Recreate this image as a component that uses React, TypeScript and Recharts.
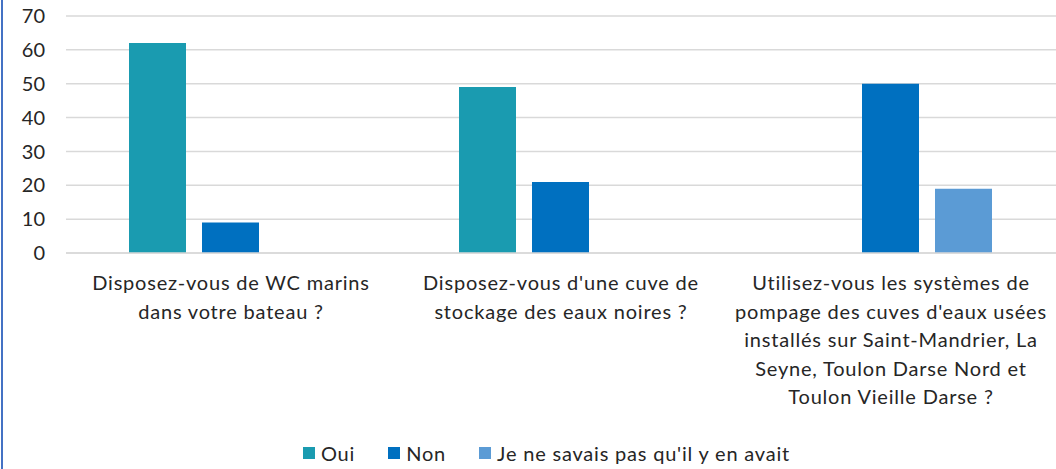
import React from "react";
import { BarChart, Bar, XAxis, YAxis, CartesianGrid, Legend } from "recharts";

const categories = [
  "Disposez-vous de WC marins\ndans votre bateau ?",
  "Disposez-vous d'une cuve de\nstockage des eaux noires ?",
  "Utilisez-vous les systèmes de\npompage des cuves d'eaux usées\ninstallés sur Saint-Mandrier, La\nSeyne, Toulon Darse Nord et\nToulon Vieille Darse ?",
];
const oui = [62, 49, null];
const non = [9, 21, 50];
const jeNeSavais = [null, null, 19];
const yTicks = [0, 10, 20, 30, 40, 50, 60, 70];

const seriesNames = ["Oui", "Non", "Je ne savais pas qu'il y en avait"];
const seriesColors = ["#1a9bb0", "#0070c0", "#5b9bd5"];

const data = categories.map((name, i) => ({
  name,
  oui: oui[i],
  non: non[i],
  je: jeNeSavais[i],
}));

const FONT = "Lato, 'Open Sans', sans-serif";

function CategoryTick(props: any) {
  const { x, y, payload } = props;
  const lines = String(payload.value).split("\n");
  return (
    <text x={x} y={y + 29} textAnchor="middle" fontFamily={FONT} fontSize={20} letterSpacing={0.8} fill="#262626">
      {lines.map((l, i) => (
        <tspan key={i} x={x} dy={i === 0 ? 0 : 28.5}>
          {l}
        </tspan>
      ))}
    </text>
  );
}

function LegendContent() {
  return (
    <div style={{ display: "flex", justifyContent: "center", fontFamily: FONT, fontSize: 20, letterSpacing: 0.8, color: "#262626", paddingTop: 2, paddingLeft: 34 }}>
      {seriesNames.map((n, i) => (
        <div key={n} style={{ display: "flex", alignItems: "center", marginRight: i < 2 ? 33 : 0 }}>
          <span style={{ width: 12, height: 12, background: seriesColors[i], display: "inline-block", marginRight: 6 }} />
          <span>{n}</span>
        </div>
      ))}
    </div>
  );
}

if (typeof document !== "undefined") document.body.style.margin = "0";

export default function App() {
  return (
    <div style={{ width: 1053, height: 469, borderLeft: "2px solid #4472c4", marginLeft: 1, background: "#fff" }}>
      <BarChart
        width={1053}
        height={469}
        data={data}
        margin={{ top: 16, right: 0, left: 0, bottom: 4 }}
        barGap={16}
        barCategoryGap={63}
      >
        <CartesianGrid vertical={false} stroke="#d9d9d9" strokeWidth={1.5} />
        <XAxis
          dataKey="name"
          tick={<CategoryTick />}
          tickLine={false}
          axisLine={{ stroke: "#d9d9d9", strokeWidth: 1.5 }}
          height={186}
          interval={0}
        />
        <YAxis
          width={63}
          domain={[0, 70]}
          ticks={yTicks}
          tickLine={false}
          axisLine={false}
          tick={{ fontFamily: FONT, fontSize: 20, fill: "#262626" }}
          tickMargin={15}
        />
        <Legend verticalAlign="bottom" content={<LegendContent />} />
        <Bar dataKey="oui" name={seriesNames[0]} fill={seriesColors[0]} isAnimationActive={false} />
        <Bar dataKey="non" name={seriesNames[1]} fill={seriesColors[1]} isAnimationActive={false} />
        <Bar dataKey="je" name={seriesNames[2]} fill={seriesColors[2]} isAnimationActive={false} />
      </BarChart>
    </div>
  );
}
